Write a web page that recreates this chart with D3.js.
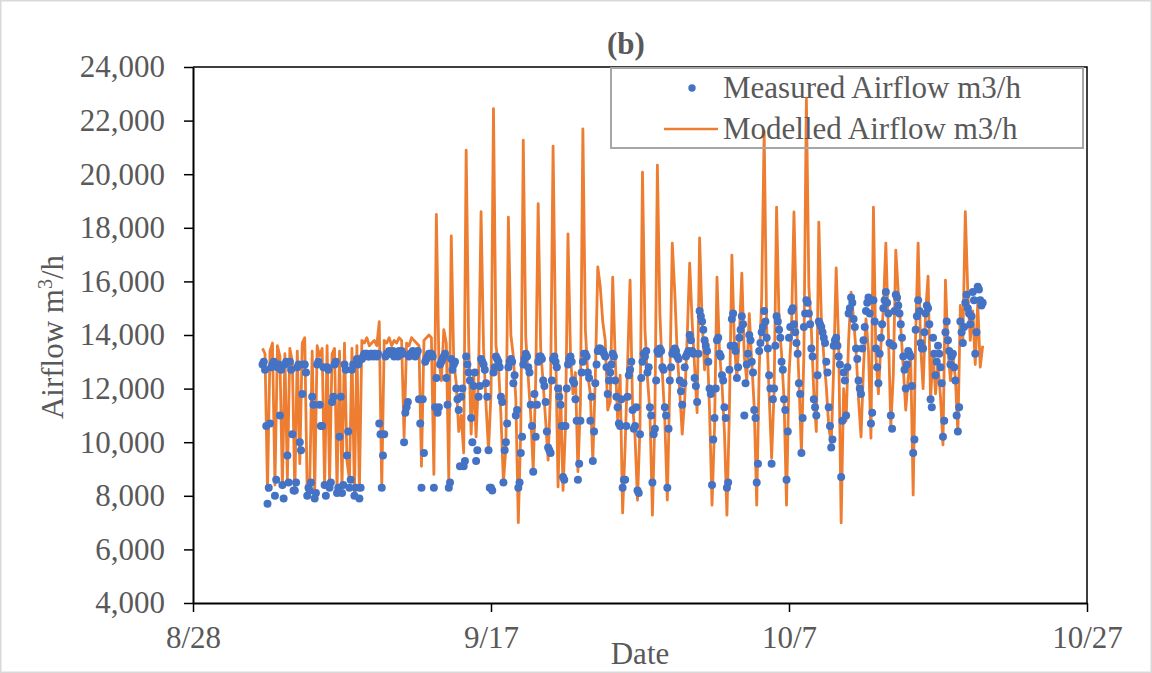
<!DOCTYPE html>
<html>
<head>
<meta charset="utf-8">
<script src="https://cdnjs.cloudflare.com/ajax/libs/d3/7.8.5/d3.min.js"></script>
<style>
  body { margin: 0; background: #fff; }
  text { font-family: "Liberation Serif", "Times New Roman", serif; fill: #595959; }
</style>
</head>
<body>
<div id="chart"></div>
<script>
// Both series start on 9/1 at 16:00 (values in m3/h).
// Modelled is read every 4 hours, measured every 2 hours.
var startTime = new Date(2019, 8, 1, 16);
var modelledStepHours = 4;
var measuredStepHours = 2;

var modelled = [
  13500, 13300,                                   // 9/1 (16h, 20h)
  8200, 13400, 13700, 8400, 13600, 13200,         // 9/2
  8300, 13300, 8600, 13500, 13000, 8100,          // 9/3
  13400, 9200, 13700, 13900, 8000, 8400,          // 9/4
  13400, 8100, 13600, 13200, 13500, 8300,         // 9/5
  13600, 8500, 13300, 13500, 8200, 13400,         // 9/6
  8300, 13700, 9300, 8600, 13500, 8100,           // 9/7
  13600, 8200, 13800, 13700, 13900, 13600,        // 9/8
  13700, 13800, 13600, 14500, 8300, 13800,        // 9/9
  13700, 13900, 13600, 13800, 13700, 13900,       // 9/10
  13800, 10200, 13700, 13600, 13900, 13800,       // 9/11
  13700, 13600, 9100, 13800, 13900, 14000,        // 9/12
  13900, 8800, 18500, 13100, 12300, 14200,        // 9/13
  13700, 8600, 17700, 13000, 12200, 10400,        // 9/14
  11000, 9600, 20900, 13800, 10300, 12600,        // 9/15
  10200, 12500, 18600, 13500, 11400, 9700,        // 9/16
  11800, 22450, 13600, 12900, 11000, 8500,        // 9/17
  9800, 18400, 14000, 13200, 11600, 7000,         // 9/18
  10500, 21270, 13900, 12400, 11000, 8960,        // 9/19
  12300, 18900, 13500, 12200, 10800, 9330,        // 9/20
  12000, 21050, 13800, 8330, 12100, 8200,         // 9/21
  10600, 17770, 13300, 11800, 12600, 8900,        // 9/22
  11400, 21690, 14200, 12500, 11800, 9300,        // 9/23
  12400, 16540, 15800, 14500, 13800, 11200,       // 9/24
  11500, 16160, 13200, 10800, 12500, 7360,        // 9/25
  9800, 12900, 16050, 11400, 10200, 7840,         // 9/26
  10600, 20080, 14200, 12400, 11100, 7280,        // 9/27
  11000, 20340, 14800, 12600, 10800, 7840,        // 9/28
  12200, 17430, 15600, 13300, 11900, 10300,       // 9/29
  11600, 13900, 16680, 14500, 12800, 11100,       // 9/30
  17620, 14600, 12700, 13800, 11200, 7650,        // 10/1
  10500, 16160, 13400, 12200, 10400, 7280,        // 10/2
  11200, 16980, 13700, 12400, 14000, 16310,       // 10/3
  13200, 12300, 14800, 13000, 11300, 7650,        // 10/4
  12700, 15400, 21600, 14300, 11800, 9400,        // 10/5
  11900, 18770, 14500, 13300, 11600, 7650,        // 10/6
  12500, 14200, 18590, 14600, 12300, 9600,        // 10/7
  13300, 22840, 15800, 14200, 11800, 10400,       // 10/8
  18210, 14700, 13200, 12100, 10600, 9900,        // 10/9
  12800, 16500, 13700, 6990, 12000, 10800,        // 10/10
  13800, 15600, 14600, 13400, 11600, 10200,       // 10/11
  12800, 14600, 13400, 10150, 18770, 13200,       // 10/12
  11800, 13600, 15000, 17430, 14200, 10600,       // 10/13
  12500, 17170, 15600, 14300, 12800, 11200,       // 10/14
  12400, 13200, 8030, 14000, 17430, 13600,        // 10/15
  12000, 14800, 16200, 11570, 13400, 11800,       // 10/16
  12900, 11700, 9900, 16050, 13500, 12300,        // 10/17
  13200, 12400, 10340, 15100, 13800, 18600,       // 10/18
  15600, 13800, 14900, 12900, 15200, 12800,       // 10/19
  13600                                           // 10/20
];

var measured = [
  12900, 13000, 12700, 10600,                                                 // 9/1 (16h-22h)
  7700, 8300, 10700, 12800, 12900, 13000, 8000, 8600, 12800, 12900, 11000, 12700, // 9/2
  8400, 7900, 12900, 13000, 9500, 8500, 13000, 12700, 10300, 8200, 8200, 8500,    // 9/3
  12800, 12900, 10000, 9700, 11800, 12900, 12900, 12600, 8000, 8300, 8200, 8500,  // 9/4
  11700, 11400, 7900, 8100, 12900, 13000, 11400, 10600, 10600, 12800, 8400, 8000, // 9/5
  12800, 12700, 8300, 8500, 11500, 11700, 12900, 13000, 8100, 8300, 10200, 11700, // 9/6
  8100, 8400, 12900, 12700, 9500, 10400, 8300, 8600, 12700, 12900, 8000, 8300,    // 9/7
  13100, 12900, 7900, 8300, 13100, 13200, 13300, 13300, 13300, 13200, 13200, 13300, // 9/8
  13300, 13200, 13300, 13300, 13200, 13300, 10700, 10300, 8300, 9500, 10300, 13200, // 9/9
  13300, 13300, 13400, 13300, 13300, 13400, 13200, 13300, 13300, 13200, 13400, 13300, // 9/10
  13400, 13300, 10000, 11100, 11300, 11500, 13200, 13300, 13300, 13400, 13300, 13200, // 9/11
  13300, 13400, 11600, 10700, 8300, 11600, 9600, 13000, 13100, 13200, 13300, 13300,  // 9/12
  13300, 13200, 8300, 11300, 12400, 11100, 11300, 12900, 13000, 13100, 13200, 13300,  // 9/13
  12400, 11400, 8300, 8500, 13100, 12700, 12900, 13000, 12000, 11600, 11200, 9100,   // 9/14
  11700, 12000, 9100, 9300, 13200, 12900, 12600, 12300, 10900, 10000, 12100, 12600,  // 9/15
  9300, 9700, 11700, 12100, 13100, 13000, 12900, 12700, 12200, 11700, 9700, 8300,    // 9/16
  8300, 8200, 12600, 12800, 13200, 13100, 13000, 12800, 11700, 11500, 8500, 9700,    // 9/17
  10000, 10700, 12800, 13000, 13100, 13000, 12200, 12500, 11000, 11200, 8300, 8500,  // 9/18
  9600, 10200, 12900, 13100, 13300, 13200, 12800, 12600, 11400, 10600, 8900, 11800,  // 9/19
  10200, 11400, 13000, 13200, 13200, 13100, 12300, 12100, 11500, 10400, 9800, 9700,  // 9/20
  9600, 12300, 13100, 13200, 13000, 12800, 12000, 11700, 11400, 10600, 8700, 8600,   // 9/21
  10600, 12000, 12900, 13100, 13200, 13000, 12300, 12200, 11600, 10800, 8600, 9200,  // 9/22
  10800, 12600, 13000, 13300, 13300, 13200, 12600, 12400, 10800, 11700, 9300, 10400, // 9/23
  12200, 12900, 13400, 13500, 13500, 13400, 13400, 13300, 13200, 12800, 11800, 12300, // 9/24
  12600, 12900, 13300, 13200, 12300, 11700, 11300, 10700, 10600, 11600, 8300, 8600,  // 9/25
  8600, 10600, 11700, 12500, 12700, 13000, 11200, 10500, 10600, 11300, 8200, 8100,   // 9/26
  10300, 12400, 13000, 13300, 13200, 13400, 12600, 12800, 11300, 11000, 8500, 10300, // 9/27
  10500, 12300, 13400, 13300, 13500, 13400, 12800, 12700, 11300, 11000, 8300, 10500, // 9/28
  12300, 12800, 13300, 13400, 13500, 13400, 13200, 13100, 12300, 11900, 11400, 12200, // 9/29
  12800, 13200, 13300, 13400, 14000, 13800, 13400, 13300, 12400, 12100, 11500, 13300, // 9/30
  14900, 14700, 14500, 14200, 13800, 13600, 13400, 13000, 12000, 11800, 8400, 10100, // 10/1
  10900, 12000, 13800, 13900, 13300, 13200, 12500, 12300, 11300, 10900, 8300, 8500,  // 10/2
  12700, 13600, 14600, 14800, 13600, 13400, 12400, 12800, 13900, 14200, 14700, 14400, // 10/3
  11000, 12200, 12900, 13300, 14000, 13800, 13000, 12600, 11200, 10900, 8500, 9200,  // 10/4
  13400, 13700, 14100, 14300, 14900, 14500, 13900, 13500, 12500, 12000, 9200, 11600, // 10/5
  12000, 13600, 14700, 14500, 14200, 13900, 13000, 12700, 11600, 11200, 8600, 10400, // 10/6
  13900, 14300, 14900, 15000, 14400, 14100, 13700, 13300, 12200, 11800, 9600, 10900, // 10/7
  14300, 14800, 15300, 15200, 14800, 14400, 13500, 13200, 11600, 11300, 11000, 12500, // 10/8
  14500, 14400, 14300, 14100, 13900, 13700, 13000, 12600, 11300, 10600, 9800, 10100, // 10/9
  13600, 13800, 13900, 13600, 13200, 12900, 8700, 10800, 12600, 12300, 11000, 12800, // 10/10
  14800, 15000, 15400, 15200, 14600, 14300, 13500, 13100, 12300, 12000, 11800, 13500, // 10/11
  13800, 14300, 14900, 15200, 15400, 14800, 10700, 11100, 15300, 14500, 13500, 12800, // 10/12
  12200, 13300, 13900, 14400, 15000, 15300, 15600, 15200, 14800, 13700, 11000, 10500, // 10/13
  13600, 14900, 15500, 15400, 15100, 14800, 14400, 13900, 13200, 12700, 12000, 12900, // 10/14
  13400, 13300, 13200, 12100, 9600, 10100, 14200, 14700, 15300, 14900, 13700, 13500,  // 10/15
  13500, 14100, 14800, 15100, 15000, 14400, 11600, 11300, 13900, 13300, 12500, 13000, // 10/16
  13600, 13300, 12800, 12200, 10200, 10800, 14100, 14500, 13800, 13400, 12900, 13200, // 10/17
  13300, 12800, 12300, 11000, 10400, 11300, 14500, 14100, 13700, 14300, 15200, 15500, // 10/18
  15000, 14800, 14400, 14700, 15600, 15300, 13300, 14100, 15800, 15700, 15300, 15100, // 10/19
  15200                                                                        // 10/20
];

var xTicks = ["2019-08-28", "2019-09-17", "2019-10-07", "2019-10-27"];
var yTicks = [4000, 6000, 8000, 10000, 12000, 14000, 16000, 18000, 20000, 22000, 24000];

(function() {
  var orange = "#ED7D31", blue = "#4472C4";
  var W = 1152, H = 673;
  var plotLeft = 193, plotRight = 1087, plotTop = 67, plotBottom = 603;

  function timeAt(i, step) {
    return new Date(startTime.getTime() + i * step * 3600 * 1000);
  }
  var parse = d3.timeParse("%Y-%m-%d");
  var xTickDates = xTicks.map(parse);

  var xScale = d3.scaleTime().domain([xTickDates[0], xTickDates[xTickDates.length - 1]]).range([plotLeft, plotRight]);
  var yScale = d3.scaleLinear().domain([4000, 24000]).range([plotBottom, plotTop]);

  var svg = d3.select("#chart").append("svg")
      .attr("width", W)
      .attr("height", H);

  // chart area border
  svg.append("rect")
      .attr("x", 0.75).attr("y", 0.75)
      .attr("width", W - 1.5).attr("height", H - 1.5)
      .attr("fill", "#fff")
      .attr("stroke", "#d9d9d9")
      .attr("stroke-width", 1.5);

  // plot frame (top and right)
  svg.append("path")
      .attr("d", "M" + plotLeft + "," + plotTop + "H" + plotRight + "V" + plotBottom)
      .attr("fill", "none")
      .attr("stroke", "#000")
      .attr("stroke-width", 1.5);

  // Axes
  var yAxis = d3.axisLeft(yScale).tickValues(yTicks).tickFormat(d3.format(","))
      .tickSize(9).tickSizeOuter(0).tickPadding(19);
  var xAxis = d3.axisBottom(xScale).tickValues(xTickDates).tickFormat(d3.timeFormat("%-m/%-d"))
      .tickSize(9).tickSizeOuter(0).tickPadding(14);

  var gy = svg.append("g")
      .attr("transform", "translate(" + plotLeft + ",0)")
      .call(yAxis);
  var gx = svg.append("g")
      .attr("transform", "translate(0," + plotBottom + ")")
      .call(xAxis);

  [gx, gy].forEach(function(g) {
    g.select(".domain").attr("stroke", "#000").attr("stroke-width", 2);
    g.selectAll(".tick line").attr("stroke", "#000").attr("stroke-width", 1.5);
    g.selectAll(".tick text")
        .style("font-family", "'Liberation Serif', 'Times New Roman', serif")
        .style("font-size", "31px")
        .attr("fill", "#595959");
  });

  // Modelled line
  var line = d3.line()
      .x(function(d, i) { return xScale(timeAt(i, modelledStepHours)); })
      .y(function(d) { return yScale(d); });

  svg.append("path")
      .datum(modelled)
      .attr("d", line)
      .attr("fill", "none")
      .attr("stroke", orange)
      .attr("stroke-width", 2.8)
      .attr("stroke-linejoin", "round");

  // Measured points
  svg.append("g").selectAll("circle")
      .data(measured)
    .enter().append("circle")
      .attr("cx", function(d, i) { return xScale(timeAt(i, measuredStepHours)); })
      .attr("cy", function(d) { return yScale(d); })
      .attr("r", 4)
      .attr("fill", blue);

  // Title
  svg.append("text")
      .attr("x", 626).attr("y", 54)
      .attr("text-anchor", "middle")
      .style("font-size", "31px")
      .style("font-weight", "bold")
      .text("(b)");

  // Axis titles
  svg.append("text")
      .attr("x", 640).attr("y", 664)
      .attr("text-anchor", "middle")
      .style("font-size", "31px")
      .text("Date");

  var yt = svg.append("text")
      .attr("transform", "translate(63,337) rotate(-90)")
      .attr("text-anchor", "middle")
      .style("font-size", "31px");
  yt.append("tspan").text("Airflow m");
  yt.append("tspan").attr("dy", -11).style("font-size", "20px").text("3");
  yt.append("tspan").attr("dy", 11).text("/h");

  // Legend
  var legend = svg.append("g");
  legend.append("rect")
      .attr("x", 611).attr("y", 68)
      .attr("width", 472).attr("height", 80)
      .attr("fill", "none")
      .attr("stroke", "#a6a6a6")
      .attr("stroke-width", 2);
  legend.append("circle")
      .attr("cx", 692).attr("cy", 88).attr("r", 3.7)
      .attr("fill", blue);
  legend.append("line")
      .attr("x1", 664).attr("x2", 718)
      .attr("y1", 129).attr("y2", 129)
      .attr("stroke", orange).attr("stroke-width", 2.5);
  legend.append("text")
      .attr("x", 723).attr("y", 98)
      .style("font-size", "31px")
      .text("Measured Airflow m3/h");
  legend.append("text")
      .attr("x", 723).attr("y", 139)
      .style("font-size", "31px")
      .text("Modelled Airflow m3/h");
})();
</script>
</body>
</html>
